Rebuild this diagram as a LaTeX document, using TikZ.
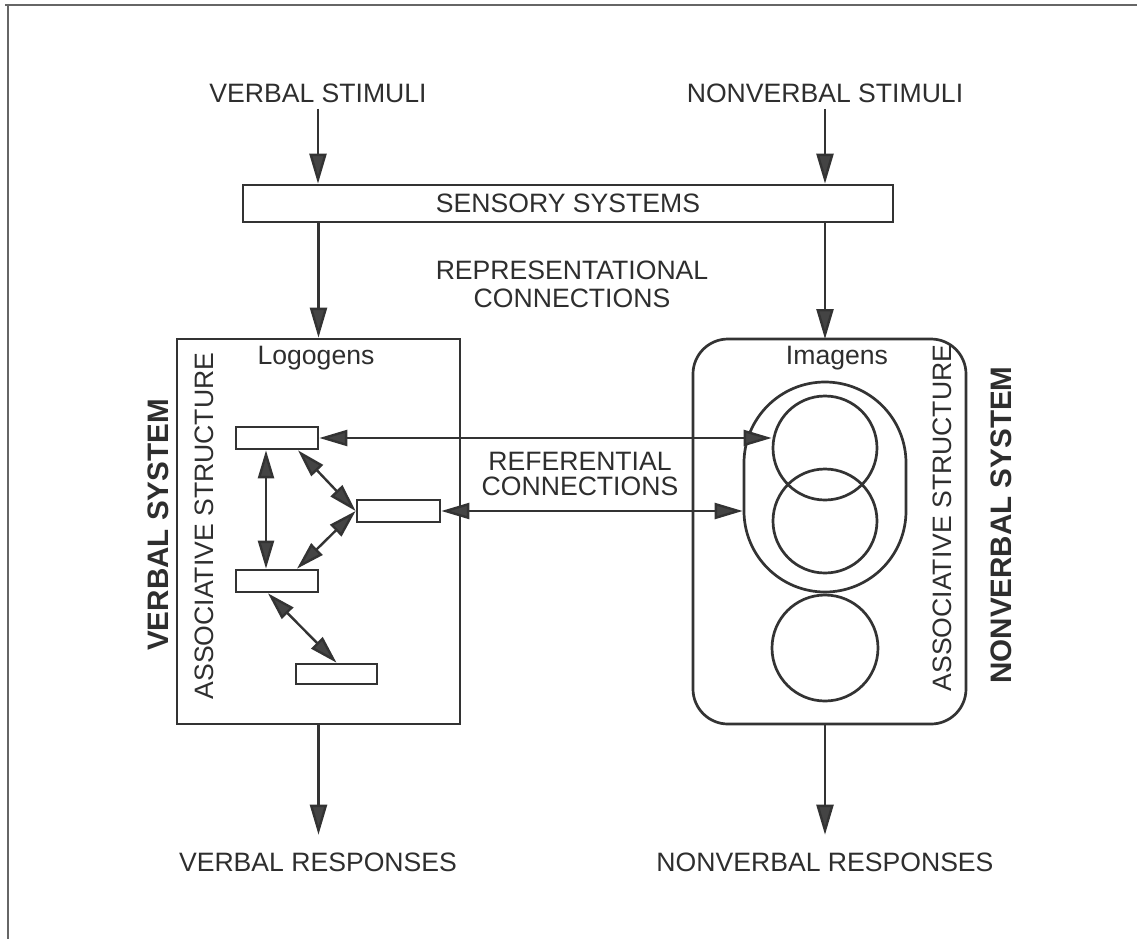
\documentclass[tikz,border=0pt]{standalone}
\usepackage{fontspec}
\setmainfont{Liberation Sans}
\usetikzlibrary{arrows.meta}
\definecolor{ink}{HTML}{333333}
\definecolor{tink}{HTML}{2E2E2E}
\definecolor{head}{HTML}{444444}
\begin{document}
\begin{tikzpicture}[x=0.5pt,y=-0.5pt,
  txt/.style={text=tink,font=\fontsize{13.3}{16}\selectfont,inner sep=3pt},
  sys/.style={text=tink,font=\fontsize{14.8}{16}\selectfont\bfseries,inner sep=0pt,rotate=90},
  box/.style={draw=ink,line width=1.35pt,fill=none,inner sep=0pt},
  small/.style={draw=ink,line width=1.35pt,inner sep=0pt,minimum height=11pt},
  circ/.style={draw=ink,line width=1.35pt,circle,inner sep=0pt,minimum size=52pt},
  arr/.style={draw=ink,line width=1.2pt,-{Triangle[length=15pt,width=8.5pt,fill=head]}},
  darr/.style={draw=ink,line width=1.2pt,{Triangle[length=14pt,width=8pt,fill=head]}-{Triangle[length=14pt,width=8pt,fill=head]}}
]
\useasboundingbox (0,0) rectangle (1137,939);
\fill[white] (0,0) rectangle (1137,939);
% frame
\draw[draw=gray!80!black,line width=1.4pt] (5,5) -- (1137,5);
\draw[draw=gray!80!black,line width=1pt] (8,5) -- (8,939);

% stimuli
\node[txt] (vs) at (318,93) {VERBAL STIMULI};
\node[txt] (ns) at (825,93) {NONVERBAL STIMULI};
% sensory
\node[box,minimum width=325pt,minimum height=18.5pt,text=tink,font=\fontsize{13.3}{16}\selectfont] (sens) at (568,203.5) {SENSORY SYSTEMS};
% system boxes
\node[box,minimum width=141.5pt,minimum height=192.5pt] (vbox) at (318.5,531.5) {};
\node[box,rounded corners=17.5pt,minimum width=136.5pt,minimum height=192.5pt] (nbox) at (829.5,531.5) {};

\draw[arr] (vs.south) -- (vs.south |- sens.north);
\draw[arr] (ns.south) -- (ns.south |- sens.north);
\draw[arr] (vbox.north |- sens.south) -- (vbox.north);
\draw[arr] (825,222) -- (825,339);

\node[txt,align=center,font=\fontsize{13.3}{14}\selectfont] (repr) at (572,284) {REPRESENTATIONAL\\CONNECTIONS};

% labels in boxes
\node[txt] (logo) at (316,358) {Logogens};
\node[txt] (imag) at (837,358) {Imagens};
\node[txt,rotate=90] (asl) at (204,526) {ASSOCIATIVE STRUCTURE};
\node[txt,rotate=90] (asr) at (942,518) {ASSOCIATIVE STRUCTURE};
\node[sys] (vsys) at (158,525) {VERBAL SYSTEM};
\node[sys] (nsys) at (1001,525) {NONVERBAL SYSTEM};

% logogens
\node[small,minimum width=41pt] (r1) at (277,438) {};
\node[small,minimum width=41.5pt] (r2) at (398.5,511) {};
\node[small,minimum width=41pt] (r3) at (277,581) {};
\node[small,minimum width=40.5pt,minimum height=10pt] (r4) at (336.5,674) {};

\draw[darr] ([xshift=-5.5pt]r1.south) -- ([xshift=-5.5pt]r3.north);
\draw[darr] ([xshift=10.5pt]r1.south) -- (r2.west);
\draw[darr] (r2.west) -- ([xshift=10pt]r3.north);
\draw[darr] ([xshift=-4.5pt]r3.south) -- (r4.north);

% imagens
\node[box,rounded corners=40.5pt,minimum width=81pt,minimum height=105pt] (oval) at (825,487) {};
\node[circ] (c1) at (825,448) {};
\node[circ] (c2) at (825,521) {};
\node[circ,minimum size=53pt] (c3) at (825,648) {};

% referential
\draw[darr] (r1.east) -- (r1.east -| c1.west);
\draw[darr] (r2.east) -- (r2.east -| oval.west);
\node[txt,align=center,font=\fontsize{13.3}{12.5}\selectfont] (refc) at (580,474) {REFERENTIAL\\CONNECTIONS};

% responses
\node[txt] (vr) at (318,862) {VERBAL RESPONSES};
\node[txt] (nr) at (825,862) {NONVERBAL RESPONSES};
\draw[arr,shorten >=5.75pt] (vbox.south) -- (vbox.south |- vr.north);
\draw[arr,shorten >=5.75pt] (825,724) -- (nr.north);
\end{tikzpicture}
\end{document}
